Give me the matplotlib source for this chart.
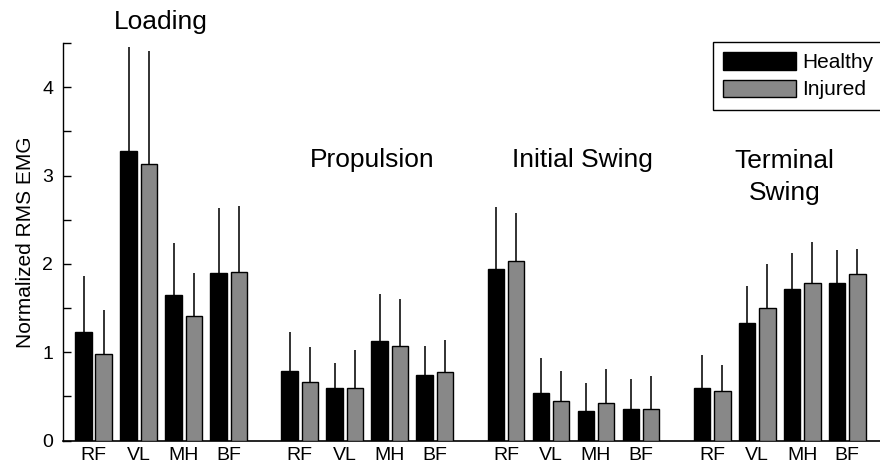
import numpy as np
import matplotlib
matplotlib.use('Agg')
import matplotlib.pyplot as plt
from matplotlib.ticker import MultipleLocator

plt.rcParams['font.family'] = ['Liberation Sans', 'DejaVu Sans']

# Data: normalized RMS EMG, mean and upper SD
phases = ['Loading', 'Propulsion', 'Initial Swing', 'Terminal\nSwing']
muscles = ['RF', 'VL', 'MH', 'BF']

healthy_mean = [1.23, 3.28, 1.65, 1.90,
                0.79, 0.59, 1.13, 0.74,
                1.94, 0.54, 0.33, 0.36,
                0.59, 1.33, 1.72, 1.78]
healthy_sd = [0.63, 1.17, 0.59, 0.73,
              0.44, 0.29, 0.53, 0.33,
              0.70, 0.39, 0.32, 0.34,
              0.38, 0.42, 0.40, 0.38]
injured_mean = [0.98, 3.13, 1.41, 1.91,
                0.66, 0.60, 1.07, 0.77,
                2.03, 0.45, 0.42, 0.36,
                0.56, 1.50, 1.78, 1.88]
injured_sd = [0.50, 1.28, 0.49, 0.75,
              0.40, 0.43, 0.53, 0.37,
              0.55, 0.34, 0.39, 0.37,
              0.30, 0.50, 0.47, 0.29]

# x positions: 4 muscles per phase with a wider gap between phases
group_step = 4.58
x = np.array([m + g * group_step for g in range(4) for m in range(4)])
w = 0.37
off = 0.225

fig = plt.figure(figsize=(8.8, 4.68), dpi=100)
ax = fig.add_axes([63 / 880, 1 - 440.5 / 468, (880 - 63) / 880, (440.5 - 43) / 468])

ax.bar(x - off, healthy_mean, width=w, color='black', edgecolor='black', linewidth=1, zorder=3, label='Healthy')
ax.bar(x + off, injured_mean, width=w, color='#888888', edgecolor='black', linewidth=1, zorder=3, label='Injured')

# upper error bars only
ax.errorbar(x - off, healthy_mean, yerr=[np.zeros(16), healthy_sd], fmt='none',
            ecolor='#222222', elinewidth=1.3, capsize=0, zorder=2)
ax.errorbar(x + off, injured_mean, yerr=[np.zeros(16), injured_sd], fmt='none',
            ecolor='#222222', elinewidth=1.3, capsize=0, zorder=2)

ax.set_xlim(-0.682, 17.47)
ax.set_ylim(0, 4.5)

# Spines and ticks
ax.spines['top'].set_visible(False)
ax.spines['right'].set_visible(False)
ax.spines['left'].set_linewidth(1)
ax.spines['bottom'].set_linewidth(1.2)
ax.yaxis.set_major_locator(MultipleLocator(1))
ax.yaxis.set_minor_locator(MultipleLocator(0.5))
ax.tick_params(axis='y', which='both', direction='in', length=6, width=1, labelsize=14, pad=7)
ax.set_xticks(x)
ax.set_xticklabels(muscles * 4, fontsize=14)
ax.tick_params(axis='x', length=0, pad=5)
ax.set_ylabel('Normalized RMS EMG', fontsize=15, labelpad=5)

# Phase labels
centers = [1.5 + g * group_step for g in range(4)]
label_y = [4.74, 3.17, 3.17, 2.98]
dx = [0, 0.1, 0.19, 0.11]
for c, t, yy, d in zip(centers, phases, label_y, dx):
    ax.text(c + d, yy, t, ha='center', va='center', fontsize=19, linespacing=1.4, clip_on=False)

leg = ax.legend(loc='upper right', bbox_to_anchor=(884 / 880, 1 - 42 / 468), bbox_transform=fig.transFigure,
                fontsize=15, frameon=True, fancybox=False, edgecolor='black', framealpha=1,
                handlelength=3.5, handleheight=0.9, handletextpad=0.3, labelspacing=0.35,
                borderpad=0.5, borderaxespad=0)
leg.get_frame().set_linewidth(1)

plt.savefig('out.png', dpi=100)
